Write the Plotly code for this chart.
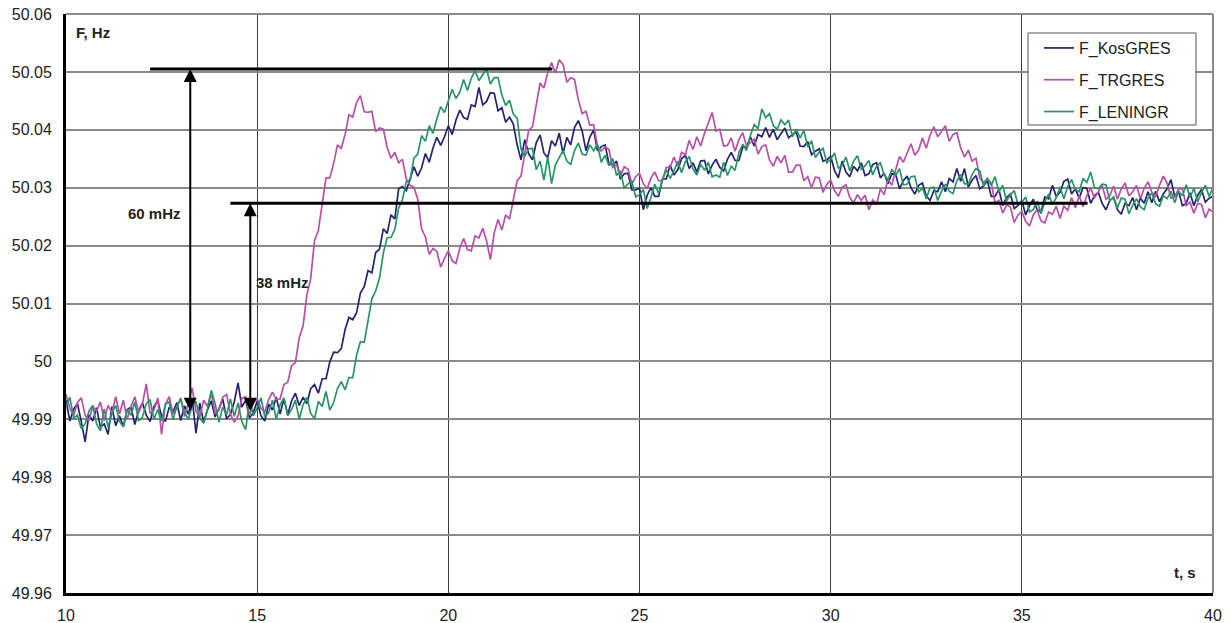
import numpy as np
import plotly.graph_objects as go

# Frequency deviation from 50 Hz, in mHz, sampled every 0.1 s from t = 10 s to 40 s
T_START = 10.0
T_STEP = 0.1

F_KOSGRES = [
    -6.7, -10.3, -8.2, -7.3, -10.4, -13.9, -9.2, -10.3, -8.0, -11.4,
    -10.8, -12.6, -7.8, -11.1, -9.4, -11.3, -8.3, -7.9, -10.9, -8.5,
    -7.2, -9.3, -10.4, -7.8, -6.8, -9.5, -10.4, -7.9, -8.7, -7.1,
    -10.2, -7.7, -9.1, -6.4, -12.4, -7.2, -10.5, -8.4, -6.8, -9.6,
    -8.2, -6.5, -9.9, -9.2, -7.0, -3.7, -7.9, -6.7, -9.8, -8.8,
    -6.9, -9.4, -10.3, -7.4, -8.4, -6.2, -9.1, -6.4, -9.2, -6.8,
    -5.5, -7.6, -6.2, -7.3, -4.7, -4.0, -5.5, -3.0, -3.0, -0.1,
    1.6, 1.5, 2.2, 5.5, 7.6, 7.2, 8.4, 11.8, 12.9, 15.7,
    15.3, 18.8, 19.4, 22.9, 22.1, 25.3, 24.6, 29.8, 30.2, 29.5,
    31.5, 33.6, 32.0, 33.4, 35.9, 34.4, 36.9, 38.7, 37.3, 38.8,
    40.7, 39.2, 41.7, 43.4, 42.1, 41.8, 44.3, 44.0, 47.3, 44.3,
    44.9, 46.4, 46.3, 43.3, 43.8, 41.3, 42.2, 41.0, 37.4, 34.8,
    38.3, 35.9, 34.8, 37.8, 39.1, 36.0, 35.2, 38.1, 37.2, 39.4,
    35.9, 38.7, 37.4, 40.4, 41.6, 39.8, 36.4, 38.7, 40.0, 36.4,
    37.1, 37.4, 34.2, 33.9, 34.6, 31.5, 32.4, 32.5, 29.6, 29.6,
    29.9, 26.2, 28.7, 30.0, 28.5, 28.5, 31.5, 31.5, 33.9, 32.2,
    33.1, 35.0, 35.6, 33.3, 34.3, 32.7, 34.6, 34.7, 32.4, 33.9,
    34.9, 33.5, 32.9, 34.9, 36.1, 34.7, 34.7, 37.0, 37.0, 38.8,
    37.2, 39.2, 38.8, 40.4, 38.7, 40.1, 38.3, 39.4, 40.3, 38.6,
    39.2, 39.6, 37.2, 37.1, 38.0, 35.7, 36.3, 36.7, 34.6, 34.8,
    35.4, 33.0, 31.7, 34.6, 32.7, 31.9, 33.7, 32.9, 34.3, 32.1,
    32.4, 34.0, 34.3, 31.7, 32.5, 30.7, 32.4, 32.3, 29.8, 31.2,
    32.0, 30.0, 28.9, 30.4, 30.8, 28.6, 27.8, 29.5, 29.3, 31.0,
    29.3, 31.6, 31.0, 33.3, 31.1, 33.3, 30.1, 31.3, 32.1, 29.8,
    30.3, 31.2, 28.5, 28.5, 29.7, 26.9, 28.3, 28.9, 26.4, 26.9,
    27.8, 25.3, 26.9, 28.0, 26.2, 25.8, 28.4, 28.1, 30.4, 28.5,
    29.2, 31.1, 31.5, 28.9, 29.8, 28.2, 30.0, 29.9, 27.3, 28.6,
    29.2, 27.3, 26.2, 27.8, 28.3, 26.2, 25.4, 27.3, 26.9, 28.3,
    26.2, 28.2, 27.3, 29.3, 27.4, 29.4, 27.6, 28.9, 29.8, 31.4,
    28.4, 29.4, 26.9, 27.3, 29.1, 26.9, 28.7, 29.7, 27.5, 28.2,
    28.5,
]

F_TRGRES = [
    -5.7, -8.1, -9.4, -7.1, -6.3, -9.3, -10.2, -7.8, -8.6, -7.0,
    -10.2, -7.6, -8.9, -6.1, -9.1, -6.7, -10.0, -7.8, -6.1, -8.8,
    -7.3, -3.9, -9.0, -8.4, -6.3, -12.6, -7.4, -6.1, -9.1, -8.0,
    -6.3, -9.5, -7.1, -4.6, -8.6, -9.6, -6.7, -7.8, -5.5, -8.9,
    -8.4, -6.2, -5.7, -9.1, -10.5, -9.4, -6.4, -6.1, -9.3, -7.1,
    -6.5, -8.1, -8.7, -6.6, -5.3, -6.6, -6.5, -4.0, -3.6, -0.7,
    -0.2, 4.1, 6.1, 11.5, 14.3, 20.9, 22.6, 27.6, 31.7, 31.7,
    34.2, 37.4, 36.8, 39.2, 42.6, 42.2, 44.7, 45.9, 43.1, 43.0,
    43.2, 39.7, 40.3, 40.1, 37.0, 35.1, 36.1, 34.3, 34.9, 31.5,
    30.4, 30.1, 28.0, 22.9, 21.5, 18.5, 19.5, 19.0, 16.3, 17.8,
    19.1, 17.4, 16.9, 19.6, 21.2, 19.3, 19.1, 21.7, 21.3, 23.0,
    20.8, 17.6, 22.2, 24.5, 22.7, 25.3, 24.6, 27.9, 31.2, 32.0,
    35.7, 39.9, 40.5, 44.0, 48.1, 47.2, 49.9, 51.6, 49.8, 52.1,
    51.3, 48.2, 49.0, 48.7, 45.2, 42.8, 43.2, 40.8, 40.9, 37.2,
    36.3, 37.1, 36.6, 33.5, 34.0, 32.0, 33.6, 33.2, 30.6, 31.9,
    32.5, 30.7, 29.8, 31.7, 32.7, 31.2, 31.2, 33.5, 33.5, 35.3,
    33.7, 36.1, 35.7, 38.2, 36.6, 38.8, 37.2, 39.4, 41.2, 43.0,
    39.8, 40.1, 37.2, 37.3, 38.6, 36.3, 38.3, 39.5, 37.2, 37.8,
    38.4, 35.8, 37.1, 37.4, 34.8, 33.7, 35.4, 34.3, 35.6, 32.7,
    32.7, 33.9, 33.9, 31.2, 31.9, 30.0, 31.8, 31.7, 29.2, 30.6,
    31.3, 29.5, 28.5, 30.1, 30.5, 28.3, 27.4, 28.8, 27.8, 28.7,
    26.2, 27.9, 27.1, 29.8, 28.8, 31.5, 30.4, 33.1, 35.4, 34.4,
    36.0, 37.6, 35.6, 36.5, 38.6, 36.8, 39.1, 40.5, 38.8, 39.8,
    40.7, 38.0, 39.2, 39.5, 36.9, 35.3, 36.5, 34.6, 35.1, 31.6,
    30.9, 31.5, 30.8, 27.4, 27.8, 25.6, 27.0, 26.7, 24.0, 25.3,
    25.9, 24.2, 23.4, 25.3, 26.2, 24.3, 23.9, 25.8, 25.4, 26.8,
    24.7, 26.8, 26.1, 28.3, 26.5, 28.6, 26.7, 28.6, 30.0, 28.2,
    29.2, 30.4, 28.0, 28.6, 30.3, 28.0, 29.8, 30.8, 28.6, 29.3,
    30.4, 28.1, 29.9, 31.0, 29.2, 28.5, 30.4, 32.0, 30.8, 28.2,
    28.4, 29.8, 29.8, 26.9, 27.5, 25.6, 27.3, 27.1, 24.8, 26.3,
    25.8,
]

F_LENINGR = [
    -7.7, -6.2, -9.8, -9.3, -11.6, -10.8, -8.6, -7.6, -10.8, -12.0,
    -8.2, -11.4, -9.0, -7.6, -10.4, -11.3, -8.3, -9.3, -7.0, -10.3,
    -9.6, -7.3, -6.6, -10.0, -8.3, -10.3, -7.4, -7.0, -10.1, -7.7,
    -6.5, -8.8, -10.0, -7.7, -6.9, -9.8, -10.7, -8.2, -5.0, -7.3,
    -10.5, -7.9, -9.2, -6.5, -9.5, -7.2, -10.4, -11.8, -6.6, -9.4,
    -8.0, -6.3, -9.6, -8.9, -6.7, -10.0, -7.5, -6.3, -9.4, -8.3,
    -6.7, -10.0, -7.5, -6.2, -9.0, -9.9, -6.9, -7.8, -5.2, -8.4,
    -7.1, -4.7, -3.5, -4.9, -2.8, -2.8, 1.1, 3.4, 3.3, 7.2,
    10.8, 12.2, 14.4, 18.7, 21.4, 21.4, 22.8, 26.5, 27.9, 31.1,
    31.3, 35.1, 35.8, 39.0, 38.0, 40.7, 39.4, 41.9, 44.0, 43.0,
    45.0, 47.0, 45.4, 46.5, 48.7, 46.8, 48.9, 50.2, 48.5, 49.5,
    50.5, 47.9, 49.0, 49.0, 46.0, 44.2, 45.1, 42.7, 42.0, 36.7,
    35.4, 36.7, 36.8, 33.1, 34.6, 31.3, 35.3, 30.7, 33.9, 35.2,
    36.4, 34.6, 34.0, 36.4, 37.7, 35.8, 35.6, 37.4, 36.4, 37.5,
    34.4, 35.6, 33.8, 35.0, 32.1, 32.9, 29.9, 30.7, 31.1, 28.4,
    28.8, 29.7, 26.4, 28.3, 30.6, 29.0, 31.4, 33.1, 31.6, 32.9,
    34.5, 32.6, 34.5, 35.4, 33.2, 32.2, 34.0, 33.0, 34.4, 31.9,
    32.2, 31.8, 34.4, 32.1, 33.7, 33.0, 36.1, 37.5, 36.4, 39.0,
    40.9, 40.2, 43.6, 42.1, 42.8, 40.7, 40.1, 41.7, 40.9, 41.7,
    38.8, 40.1, 38.6, 39.9, 37.0, 38.1, 35.2, 36.2, 36.8, 34.3,
    34.9, 36.0, 33.4, 33.8, 35.3, 32.9, 34.6, 35.5, 33.2, 33.8,
    34.7, 32.2, 33.7, 34.3, 32.2, 31.4, 33.2, 32.1, 33.3, 30.5,
    30.6, 31.9, 32.0, 29.2, 30.0, 28.1, 30.0, 30.1, 27.8, 29.4,
    30.6, 29.4, 29.0, 31.2, 32.3, 30.7, 30.6, 32.3, 33.3, 32.9,
    30.3, 31.7, 30.4, 31.9, 29.3, 30.4, 27.7, 28.8, 29.5, 27.1,
    27.5, 28.4, 25.8, 26.2, 27.7, 25.5, 27.5, 28.9, 27.1, 28.3,
    30.1, 28.1, 30.2, 31.4, 29.7, 29.3, 31.6, 30.9, 32.7, 30.0,
    29.8, 30.6, 30.5, 27.7, 28.4, 26.5, 28.2, 28.0, 25.5, 27.0,
    28.1, 26.7, 26.2, 28.2, 29.1, 27.2, 26.8, 28.6, 28.1, 29.4,
    27.4, 29.4, 28.6, 30.5, 28.3, 29.9, 27.6, 29.2, 30.4, 28.5,
    30.1,
]

SERIES_NAMES = ["F_KosGRES", "F_TRGRES", "F_LENINGR"]
SERIES_COLORS = ["#23236f", "#b650aa", "#2b9466"]

Y_TICKS = [49.96, 49.97, 49.98, 49.99, 50.00, 50.01, 50.02, 50.03, 50.04, 50.05, 50.06]
Y_TICK_LABELS = ["49.96", "49.97", "49.98", "49.99", "50", "50.01", "50.02",
                 "50.03", "50.04", "50.05", "50.06"]
X_TICKS = [10, 15, 20, 25, 30, 35, 40]

# Reference levels for the swing markers (Hz) and where they are drawn (s)
LEVEL_PEAK = 50.0505
LEVEL_SETTLED = 50.0273
LEVEL_START = 49.9912
PEAK_LINE_SPAN = [12.2, 22.72]
SETTLED_LINE_SPAN = [14.3, 36.72]
ARROW_T = [13.25, 14.82]
SWING_LABELS = ["60 mHz", "38 mHz"]

FONT = "Liberation Sans, Arial, sans-serif"

fig = go.Figure()

for name, dev, color in zip(SERIES_NAMES, [F_KOSGRES, F_TRGRES, F_LENINGR], SERIES_COLORS):
    dev = np.asarray(dev)
    t = T_START + T_STEP * np.arange(len(dev))
    fig.add_trace(go.Scatter(
        x=t, y=50.0 + dev / 1000.0, mode="lines", name=name, legendgroup=name,
        line=dict(color=color, width=1.7),
    ))

shapes = [
    # top and right frame edges
    dict(type="line", xref="paper", yref="paper", x0=0, x1=1, y0=1, y1=1,
         line=dict(color="#8a8a8a", width=2)),
    dict(type="line", xref="paper", yref="paper", x0=1, x1=1, y0=0, y1=1,
         line=dict(color="#8a8a8a", width=2)),
    # legend frame
    dict(type="rect", xref="paper", yref="paper", x0=0.8387, x1=0.9852, y0=0.8083, y1=0.9672,
         line=dict(color="#555555", width=1), fillcolor="white", layer="above"),
    # horizontal marker lines
    dict(type="line", xref="x", yref="y", x0=PEAK_LINE_SPAN[0], x1=PEAK_LINE_SPAN[1],
         y0=LEVEL_PEAK, y1=LEVEL_PEAK, line=dict(color="black", width=3)),
    dict(type="line", xref="x", yref="y", x0=SETTLED_LINE_SPAN[0], x1=SETTLED_LINE_SPAN[1],
         y0=LEVEL_SETTLED, y1=LEVEL_SETTLED, line=dict(color="black", width=3)),
]

annotations = []
for t_arrow, top in zip(ARROW_T, [LEVEL_PEAK, LEVEL_SETTLED]):
    annotations.append(dict(
        x=t_arrow, y=top, ax=t_arrow, ay=LEVEL_START, xref="x", yref="y",
        axref="x", ayref="y", text="", showarrow=True, arrowhead=2,
        arrowside="end+start", arrowsize=1.3, arrowwidth=2, arrowcolor="black",
        standoff=0, startstandoff=0,
    ))

label_font = dict(family=FONT, size=15, color="#222222")
annotations += [
    dict(x=13.07, y=50.0256, xref="x", yref="y", text="<b>%s</b>" % SWING_LABELS[0],
         showarrow=False, xanchor="right", yanchor="middle", font=label_font),
    dict(x=14.93, y=50.0137, xref="x", yref="y", text="<b>%s</b>" % SWING_LABELS[1],
         showarrow=False, xanchor="left", yanchor="middle", font=label_font),
    dict(x=10.22, y=50.0568, xref="x", yref="y", text="<b>F, Hz</b>",
         showarrow=False, xanchor="left", yanchor="middle", font=label_font),
    dict(x=39.62, y=49.9636, xref="x", yref="y", text="<b>t, s</b>",
         showarrow=False, xanchor="right", yanchor="middle", font=label_font),
]

tick_font = dict(family=FONT, size=16, color="#222222")

fig.update_layout(
    width=1231, height=623,
    margin=dict(l=66, r=18, t=14, b=30),
    paper_bgcolor="white", plot_bgcolor="white",
    shapes=shapes, annotations=annotations,
    showlegend=True,
    legend=dict(
        x=0.8483, y=0.9706, xanchor="left", yanchor="top",
        bgcolor="rgba(0,0,0,0)", borderwidth=0,
        font=dict(family=FONT, size=16, color="#222222"),
        tracegroupgap=8,
    ),
    xaxis=dict(
        range=[10, 40], tickvals=X_TICKS, showgrid=True, gridcolor="#3c3c3c", gridwidth=1,
        showline=True, linecolor="black", linewidth=3, zeroline=False, ticks="",
        tickfont=tick_font, ticklabelstandoff=6, automargin=False,
    ),
    yaxis=dict(
        range=[49.96, 50.06], tickvals=Y_TICKS, ticktext=Y_TICK_LABELS,
        showgrid=True, gridcolor="#8a8a8a", gridwidth=1.5,
        showline=True, linecolor="black", linewidth=3, zeroline=False, ticks="",
        tickfont=tick_font, ticklabelstandoff=8, automargin=False,
    ),
)

fig.write_html("out.html")
